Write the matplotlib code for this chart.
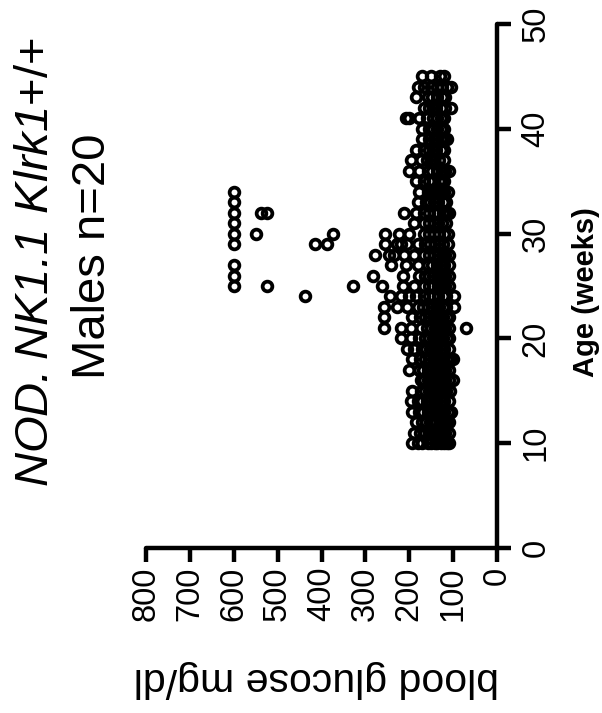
import matplotlib.pyplot as plt

plt.rcParams['font.family'] = ['Liberation Sans', 'DejaVu Sans']
plt.rcParams['mathtext.fontset'] = 'custom'
plt.rcParams['mathtext.rm'] = 'Liberation Sans'
plt.rcParams['mathtext.sf'] = 'Liberation Sans:italic'

# blood glucose readings (mg/dl) per week of age, one list per week
weeks = [10, 11, 12, 13, 14, 15, 16, 17, 18, 19, 20, 21, 22, 23, 24, 25, 26, 27,
         28, 29, 30, 31, 32, 33, 34, 35, 36, 37, 38, 39, 40, 41, 42, 43, 44, 45]
glucose_by_week = [
    [193, 181, 170, 158, 150, 142, 136, 128, 121, 115, 110],
    [190, 175, 165, 155, 148, 140, 132, 125, 118, 110],
    [185, 172, 162, 152, 145, 138, 130, 122, 116, 110],
    [193, 178, 168, 158, 150, 142, 135, 127, 120, 112, 105],
    [197, 180, 170, 160, 152, 144, 136, 128, 120, 110],
    [193, 174, 165, 156, 148, 140, 132, 124, 116, 108],
    [174, 166, 158, 150, 142, 134, 126, 118, 110, 101],
    [201, 178, 168, 158, 150, 142, 134, 126, 118, 110],
    [193, 175, 165, 155, 147, 139, 131, 123, 115, 108, 101],
    [204, 190, 172, 162, 152, 144, 136, 128, 120, 110],
    [219, 197, 178, 165, 155, 146, 138, 130, 122, 114, 110],
    [258, 219, 197, 174, 160, 150, 142, 134, 126, 118, 110, 71],
    [258, 193, 175, 165, 155, 146, 138, 130, 122, 114, 110],
    [258, 227, 204, 181, 168, 158, 148, 140, 132, 124, 116, 98],
    [437, 244, 219, 201, 185, 166, 155, 145, 135, 124, 116, 98],
    [600, 524, 328, 261, 215, 190, 166, 155, 145, 135, 125, 118, 110],
    [600, 282, 215, 178, 165, 155, 145, 135, 125, 118, 110],
    [600, 242, 208, 181, 158, 148, 136, 128, 120, 110],
    [278, 246, 235, 212, 190, 166, 155, 144, 135, 125, 118, 110],
    [600, 414, 387, 256, 227, 219, 204, 180, 165, 152, 142, 132, 122, 112],
    [600, 549, 374, 256, 223, 201, 166, 155, 144, 132, 121, 112],
    [600, 190, 166, 155, 144, 134, 125, 116],
    [600, 539, 524, 212, 185, 166, 155, 144, 134, 124, 116, 110],
    [600, 181, 162, 152, 144, 134, 124, 116],
    [600, 178, 158, 150, 144, 136, 128, 120, 112],
    [185, 167, 155, 145, 133, 128, 120],
    [201, 178, 158, 148, 136, 125, 118, 110],
    [197, 174, 160, 150, 144, 132, 121],
    [185, 167, 155, 147, 138, 128, 120],
    [170, 155, 144, 136, 128, 120, 113],
    [170, 155, 145, 136, 128, 120],
    [208, 200, 178, 160, 147, 136, 128, 120],
    [166, 155, 147, 138, 128, 118, 105],
    [185, 158, 148, 136, 126, 118],
    [181, 167, 150, 136, 125, 115, 105],
    [170, 150, 130, 120],
]

glucose_ticks = [0, 100, 200, 300, 400, 500, 600, 700, 800]
age_ticks = [0, 10, 20, 30, 40, 50]

W, H = 602, 713
fig = plt.figure(figsize=(W / 100, H / 100), dpi=100)
# chart is drawn turned 90 degrees: glucose runs right-to-left, age runs upward
ax = fig.add_axes([146 / W, 1 - 548 / H, 351 / W, 524 / H])

for wk, vals in zip(weeks, glucose_by_week):
    ax.plot(vals, [wk] * len(vals), 'o', mfc='none', mec='black', ms=7, mew=2.7,
            clip_on=False, zorder=3)

ax.set_xlim(800, 0)
ax.set_ylim(0, 50)
ax.set_xticks(glucose_ticks)
ax.set_yticks(age_ticks)

for s in ['left', 'top']:
    ax.spines[s].set_visible(False)
for s in ['bottom', 'right']:
    ax.spines[s].set_linewidth(3.2)
    ax.spines[s].set_capstyle('round')

ax.yaxis.tick_right()
ax.tick_params(axis='both', direction='out', length=10, width=3.2, labelsize=23.5)
ax.tick_params(axis='x', pad=3.5, labelrotation=90)
ax.tick_params(axis='y', pad=7, labelrotation=90)
for lbl in ax.get_yticklabels():
    lbl.set_va('center')

fig.text(48 / W, 1 - 262 / H, r'$\mathsf{NOD.NK1.1\ Klrk1}$+/+', fontsize=34,
         rotation=90, rotation_mode='anchor', ha='center', va='baseline')
fig.text(105 / W, 1 - 256 / H, 'Males n=20', fontsize=34,
         rotation=90, rotation_mode='anchor', ha='center', va='baseline')
fig.text(316 / W, 1 - 668 / H, 'blood glucose mg/dl', fontsize=29.5,
         rotation=180, rotation_mode='anchor', ha='center', va='baseline')
fig.text(594 / W, 1 - 292 / H, 'Age (weeks)', fontsize=21, fontweight='bold',
         rotation=90, rotation_mode='anchor', ha='center', va='baseline')

fig.savefig('out.png', dpi=100)
